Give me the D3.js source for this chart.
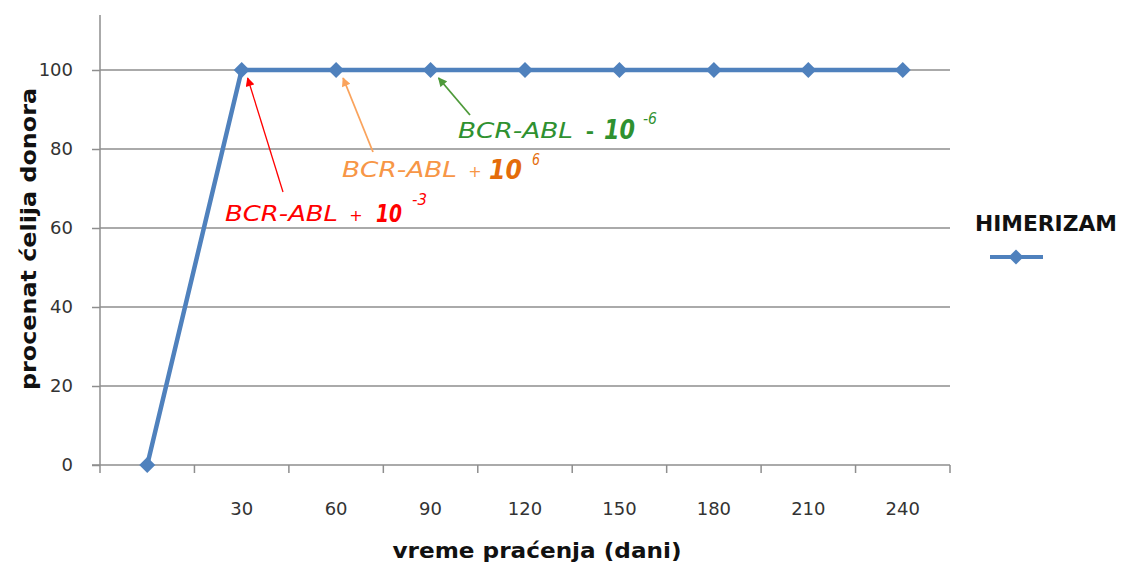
<!DOCTYPE html>
<html>
<head>
<meta charset="utf-8">
<script src="https://cdn.jsdelivr.net/npm/d3@7"></script>
<style>
  html, body { margin: 0; padding: 0; background: #fff; }
  svg { display: block; font-family: "DejaVu Sans", Verdana, sans-serif; }
</style>
</head>
<body>
<svg id="chart" width="1122" height="562"></svg>
<script>
// Follow-up days (first category has no label) and donor-cell percentage
const days = ["", "30", "60", "90", "120", "150", "180", "210", "240"];
const donorPercent = [0, 100, 100, 100, 100, 100, 100, 100, 100];
const yTicks = [0, 20, 40, 60, 80, 100];
const seriesName = "HIMERIZAM";
const xTitle = "vreme praćenja (dani)";
const yTitle = "procenat ćelija donora";

// Molecular response notes attached to the 30, 60 and 90 day points
const noteDays = ["30", "60", "90"];
const noteGene = ["BCR-ABL", "BCR-ABL", "BCR-ABL"];
const noteSign = ["+", "+", "-"];
const noteBase = ["10", "10", "10"];
const noteExp = ["-3", "6", "-6"];

// ---- layout -------------------------------------------------------------
const svg = d3.select("#chart");
const plotLeft = 100, plotRight = 950, plotBottom = 465, plotTop = 15;
const blue = "#4F81BD", grid = "#8e8e8e";

const x = d3.scaleBand().domain(days).range([plotLeft, plotRight]).padding(0);
const y = d3.scaleLinear().domain([0, 100]).range([plotBottom, 70]);
const cx = d => x(d) + x.bandwidth() / 2;

// horizontal gridlines
svg.append("g").selectAll("line").data(yTicks.filter(v => v > 0)).join("line")
  .attr("x1", plotLeft).attr("x2", plotRight)
  .attr("y1", d => y(d)).attr("y2", d => y(d))
  .attr("stroke", grid).attr("stroke-width", 1.5);

// y axis
const yAxis = svg.append("g").attr("transform", `translate(${plotLeft},0)`)
  .call(d3.axisLeft(y).tickValues(yTicks).tickSize(8).tickPadding(19).tickFormat(d3.format("d")));
yAxis.select(".domain").remove();
yAxis.selectAll(".tick line").attr("stroke", grid).attr("stroke-width", 1.5);
yAxis.selectAll(".tick text").attr("fill", "#333").style("font-size", "18px")
  .style("font-family", "'DejaVu Sans', sans-serif");
svg.append("line").attr("x1", plotLeft).attr("x2", plotLeft).attr("y1", plotTop).attr("y2", plotBottom)
  .attr("stroke", grid).attr("stroke-width", 1.5);

// x axis: ticks on category boundaries, labels at category centres
svg.append("line").attr("x1", plotLeft - 8).attr("x2", plotRight).attr("y1", plotBottom).attr("y2", plotBottom)
  .attr("stroke", grid).attr("stroke-width", 1.5);
const edges = days.map(d => x(d)).concat([x.range()[1]]);
svg.append("g").selectAll("line").data(edges).join("line")
  .attr("x1", d => d).attr("x2", d => d).attr("y1", plotBottom).attr("y2", plotBottom + 8)
  .attr("stroke", grid).attr("stroke-width", 1.5);
const xAxis = svg.append("g").attr("transform", `translate(0,${plotBottom})`)
  .call(d3.axisBottom(x).tickSize(0).tickPadding(37));
xAxis.select(".domain").remove();
xAxis.selectAll(".tick text").attr("fill", "#333").style("font-size", "18px")
  .style("font-family", "'DejaVu Sans', sans-serif");

// axis titles
svg.append("text").attr("x", 537).attr("y", 558).attr("text-anchor", "middle")
  .attr("textLength", 289).attr("lengthAdjust", "spacingAndGlyphs")
  .style("font-size", "22px").style("font-weight", "bold").attr("fill", "#111").text(xTitle);
svg.append("text").attr("transform", "translate(36,239) rotate(-90)").attr("text-anchor", "middle")
  .attr("textLength", 302).attr("lengthAdjust", "spacingAndGlyphs")
  .style("font-size", "22px").style("font-weight", "bold").attr("fill", "#111").text(yTitle);

// series line and diamond markers
const line = d3.line().x((d, i) => cx(days[i])).y(d => y(d));
svg.append("path").datum(donorPercent).attr("d", line)
  .attr("fill", "none").attr("stroke", blue).attr("stroke-width", 4.5).attr("stroke-linejoin", "round");
const diamond = r => `M0,${-r}L${r},0L0,${r}L${-r},0Z`;
svg.append("g").selectAll("path").data(donorPercent).join("path")
  .attr("transform", (d, i) => `translate(${cx(days[i])},${y(d)})`)
  .attr("d", diamond(8)).attr("fill", blue);

// legend
svg.append("text").attr("x", 975).attr("y", 231).attr("textLength", 142).attr("lengthAdjust", "spacingAndGlyphs")
  .style("font-size", "21px").style("font-weight", "bold").attr("fill", "#111").text(seriesName);
svg.append("line").attr("x1", 990).attr("x2", 1043).attr("y1", 257).attr("y2", 257)
  .attr("stroke", blue).attr("stroke-width", 4);
svg.append("path").attr("transform", "translate(1016,257)").attr("d", diamond(7.5)).attr("fill", blue);

// annotations: arrow tail, text pieces placement and colours
const noteStyle = [
  { tail: [283, 192], tipOff: [6, 8], arrow: "#FF0000", geneCol: "#FF0000", powCol: "#FF0000",
    gene: [225, 221, 113], sign: [356, 221], base: [376, 222, 26, 25], exp: [412, 205, 15] },
  { tail: [373, 152], tipOff: [7, 8], arrow: "#FAA35C", geneCol: "#F79646", powCol: "#E46C0A",
    gene: [342, 177, 115], sign: [475, 177], base: [489, 179, 33, 27], exp: [532, 165, 8] },
  { tail: [470, 115], tipOff: [8, 8], arrow: "#4E9A3A", geneCol: "#2F9130", powCol: "#2F9130",
    gene: [458, 138, 115], sign: [590, 138], base: [604, 139, 31, 27], exp: [643, 124, 14] }
];

const defs = svg.append("defs");
noteStyle.forEach((s, i) => {
  defs.append("marker").attr("id", "ah" + i).attr("viewBox", "0 0 10 10")
    .attr("refX", 9).attr("refY", 5).attr("markerWidth", 11).attr("markerHeight", 9)
    .attr("markerUnits", "userSpaceOnUse").attr("orient", "auto")
    .append("path").attr("d", "M0,0L10,5L0,10Z").attr("fill", s.arrow);
});

const notes = svg.append("g");
noteDays.forEach((d, i) => {
  const s = noteStyle[i];
  const tipX = cx(d) + s.tipOff[0], tipY = y(donorPercent[days.indexOf(d)]) + s.tipOff[1];
  notes.append("line").attr("x1", s.tail[0]).attr("y1", s.tail[1]).attr("x2", tipX).attr("y2", tipY)
    .attr("stroke", s.arrow).attr("stroke-width", i === 0 ? 1.3 : 1.8).attr("marker-end", `url(#ah${i})`);
  notes.append("text").attr("x", s.gene[0]).attr("y", s.gene[1])
    .attr("textLength", s.gene[2]).attr("lengthAdjust", "spacingAndGlyphs")
    .style("font-size", "22px").style("font-style", "italic").attr("fill", s.geneCol).text(noteGene[i]);
  notes.append("text").attr("x", s.sign[0]).attr("y", s.sign[1]).attr("text-anchor", "middle")
    .style("font-size", noteSign[i] === "+" ? "16px" : "20px").style("font-weight", noteSign[i] === "+" ? "normal" : "bold")
    .attr("fill", s.geneCol).text(noteSign[i]);
  notes.append("text").attr("x", s.base[0]).attr("y", s.base[1])
    .attr("textLength", s.base[2]).attr("lengthAdjust", "spacingAndGlyphs")
    .style("font-size", s.base[3] + "px").style("font-style", "italic").style("font-weight", "bold")
    .attr("fill", s.powCol).text(noteBase[i]);
  notes.append("text").attr("x", s.exp[0]).attr("y", s.exp[1])
    .attr("textLength", s.exp[2]).attr("lengthAdjust", "spacingAndGlyphs")
    .style("font-size", "15px").style("font-style", "italic")
    .attr("fill", s.powCol).text(noteExp[i]);
});
</script>
</body>
</html>
